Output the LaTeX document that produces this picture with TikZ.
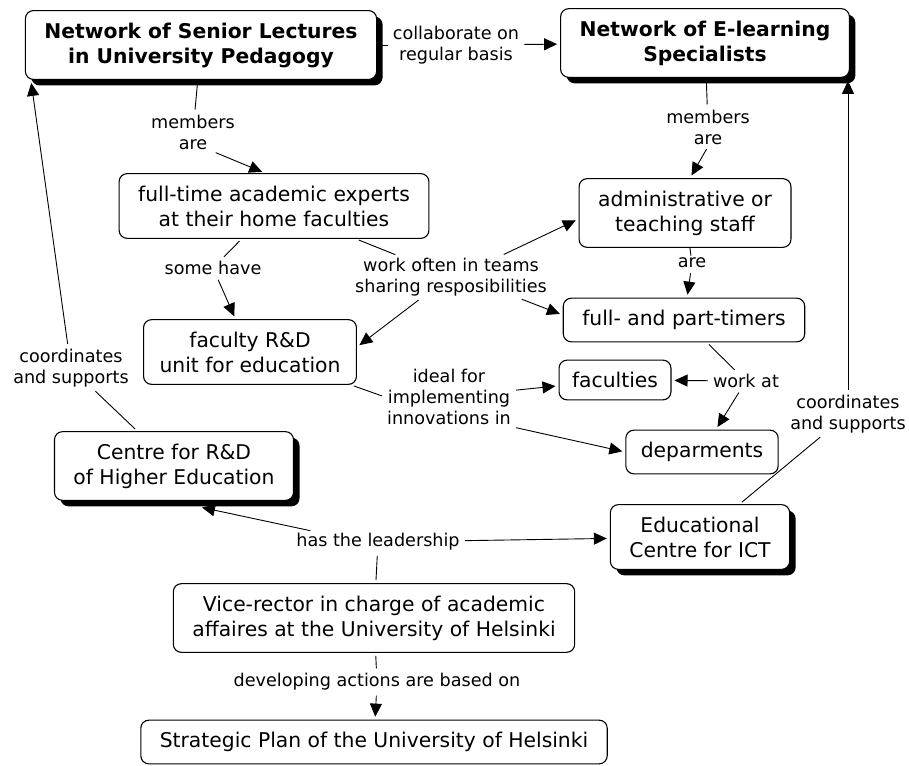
\documentclass[tikz,border=0pt]{standalone}
\usepackage{fontspec}
\setmainfont{DejaVu Sans}
\usetikzlibrary{arrows.meta,shadows}

\begin{document}
\begin{tikzpicture}[x=1pt,y=-1pt,
		concept/.style={shape=rectangle, draw, fill=white, rounded corners=8pt,
			line width=1.1pt, align=center, inner xsep=19pt, inner ysep=12pt,
			font=\fontsize{20.3}{25}\selectfont},
		main/.style={concept, drop shadow={shadow xshift=6pt, shadow yshift=-6pt,
			opacity=1, fill=black}},
		network/.style={main, font=\fontsize{20.3}{25}\selectfont\bfseries},
		phrase/.style={align=center, inner sep=2pt,
			font=\fontsize{17.6}{21}\selectfont},
		link/.style={line width=0.9pt, shorten <=3pt, shorten >=3pt},
		arrow/.style={link, -{Triangle[length=13pt,width=12pt]}},
		]
		\useasboundingbox (0,0) rectangle (909,765);
		
		\node[network] (senior) at (201,45) {Network of Senior Lectures\\in University Pedagogy};
		\node[network] (elearn) at (705,43) {Network of E-learning\\Specialists};
		\node[concept] (fulltime) at (274,206) {full-time academic experts\\at their home faculties};
		\node[concept] (admin) at (685,213) {administrative or\\teaching staff};
		\node[concept] (timers) at (684,320) {full- and part-timers};
		\node[concept, inner xsep=16pt] (unit) at (250,352) {faculty R\&D\\unit for education};
		\node[concept, inner xsep=13pt] (faculties) at (615,380) {faculties};
		\node[concept, inner xsep=15pt] (departments) at (702,452) {deparments};
		\node[main] (centre) at (174,466) {Centre for R\&D\\of Higher Education};
		\node[main] (ict) at (700,537) {Educational\\Centre for ICT};
		\node[concept] (vicerector) at (374,618) {Vice-rector in charge of academic\\affaires at the University of Helsinki};
		\node[concept] (plan) at (374,742) {Strategic Plan of the University of Helsinki};
		
		\node[phrase] (collab) at (456,45) {collaborate on\\regular basis};
		\node[phrase] (members1) at (193,132) {members\\are};
		\node[phrase] (members2) at (708,127) {members\\are};
		\node[phrase] (somehave) at (213,268) {some have};
		\node[phrase] (teams) at (451,277) {work often in teams\\sharing resposibilities};
		\node[phrase] (are) at (692,263) {are};
		\node[phrase] (workat) at (746,381) {work at};
		\node[phrase] (ideal) at (449,397) {ideal for\\implementing\\innovations in};
		\node[phrase] (coord1) at (71,368) {coordinates\\and supports};
		\node[phrase] (coord2) at (848,414) {coordinates\\and supports};
		\node[phrase] (lead) at (378,542) {has the leadership};
		\node[phrase] (based) at (377,682) {developing actions are based on};
		
		\draw[link] (senior.east) -- (collab.west);
		\draw[arrow] (collab) -- (elearn);
		\draw[link] (senior) -- (members1);
		\draw[arrow] ([xshift=20pt]members1.south) -- ([xshift=-9pt]fulltime.north);
		\draw[link] (elearn) -- (members2);
		\draw[arrow] (members2.south) -- ([xshift=5pt]admin.north);
		\draw[link] (fulltime) -- (somehave);
		\draw[arrow] (somehave) -- (unit);
		\draw[link] (fulltime) -- (teams);
		\draw[arrow] ([xshift=50pt]teams.north) -- ([yshift=-6pt]admin.west);
		\draw[arrow] ([xshift=-30pt]teams.south) -- ([yshift=5pt]unit.east);
		\draw[arrow] ([xshift=68pt]teams.south) -- ([yshift=5pt]timers.west);
		\draw[link, shorten <=0pt, shorten >=0pt] (admin) -- (are);
		\draw[arrow] (are) -- (timers);
		\draw[link] (timers) -- (workat);
		\draw[arrow] (workat) -- (faculties);
		\draw[arrow] (workat) -- (departments);
		\draw[link] ([xshift=-6pt]unit.south east) -- (ideal.west);
		\draw[arrow] (ideal) -- (faculties);
		\draw[arrow] (ideal.south east) -- (departments.west);
		\draw[link] (centre) -- (coord1);
		\draw[arrow] (coord1) -- ([xshift=6pt]senior.south west);
		\draw[link] (ict) -- (coord2);
		\draw[arrow] (coord2.north) -- (coord2.north |- elearn.south);
		\draw[link] (vicerector) -- (lead);
		\draw[arrow] ([xshift=19pt]lead.north west) -- ([xshift=25pt,yshift=-6pt]centre.south);
		\draw[arrow] (lead) -- (ict);
		\draw[link] (vicerector) -- (based);
		\draw[arrow] (based) -- (plan);
\end{tikzpicture}
\end{document}
